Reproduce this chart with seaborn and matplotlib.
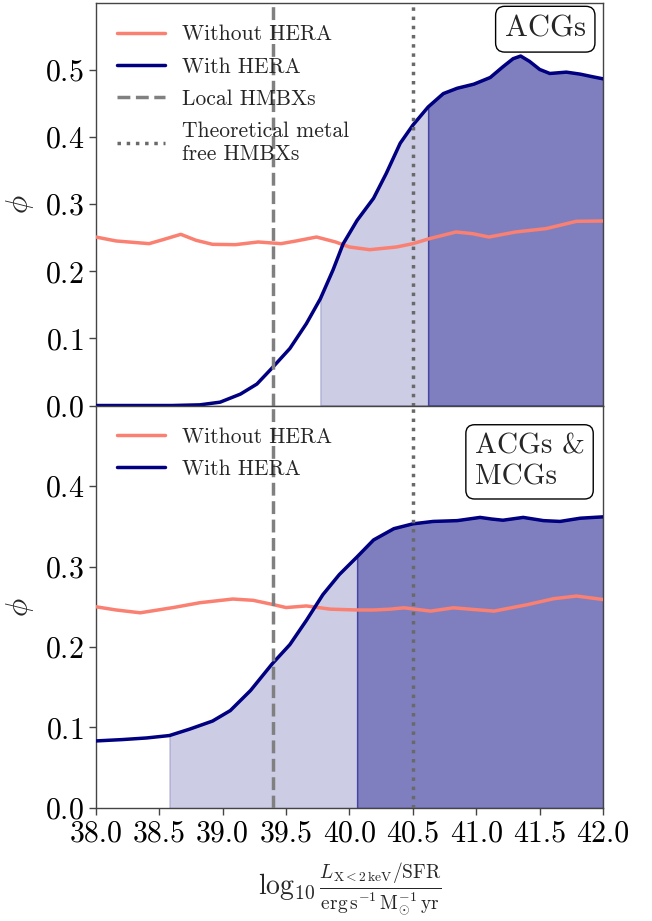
import numpy as np
import pandas as pd
import matplotlib
matplotlib.use("Agg")
import matplotlib.pyplot as plt
import seaborn as sns

# ACGs panel: phi as a function of log10(L_X/SFR)
acg_x_with = [38.0, 38.4, 38.6, 38.82, 38.98, 39.14, 39.27, 39.39, 39.53, 39.66, 39.77, 39.87,
              39.95, 40.06, 40.19, 40.29, 40.4, 40.5, 40.62, 40.74, 40.85, 40.98, 41.11, 41.21,
              41.29, 41.35, 41.42, 41.5, 41.58, 41.71, 41.82, 41.92, 42.0]
acg_phi_with = [0.0, 0.0, 0.0, 0.001, 0.005, 0.017, 0.032, 0.056, 0.085, 0.122, 0.159, 0.202,
                0.241, 0.276, 0.309, 0.346, 0.391, 0.418, 0.445, 0.465, 0.473, 0.479, 0.489,
                0.505, 0.517, 0.521, 0.513, 0.501, 0.495, 0.497, 0.494, 0.490, 0.487]
acg_x_without = [38.0, 38.16, 38.42, 38.53, 38.67, 38.79, 38.92, 39.1, 39.28, 39.46, 39.58,
                 39.74, 39.89, 40.0, 40.16, 40.37, 40.5, 40.63, 40.84, 40.97, 41.1, 41.31,
                 41.55, 41.79, 42.0]
acg_phi_without = [0.2512, 0.2453, 0.2413, 0.2473, 0.2552, 0.2463, 0.2403, 0.2398, 0.2438,
                   0.2413, 0.2453, 0.2512, 0.2438, 0.2363, 0.2323, 0.2363, 0.2413, 0.2487,
                   0.2587, 0.2562, 0.2512, 0.2587, 0.2637, 0.2746, 0.2751]

# ACGs & MCGs panel
mcg_x_with = [38.0, 38.21, 38.4, 38.58, 38.74, 38.92, 39.06, 39.22, 39.39, 39.53, 39.66, 39.79,
              39.92, 40.06, 40.19, 40.35, 40.5, 40.66, 40.85, 41.03, 41.12, 41.21, 41.37,
              41.53, 41.66, 41.82, 42.0]
mcg_phi_with = [0.0833, 0.085, 0.087, 0.090, 0.098, 0.108, 0.121, 0.146, 0.179, 0.203, 0.233,
                0.265, 0.290, 0.312, 0.333, 0.347, 0.353, 0.356, 0.357, 0.361, 0.359, 0.3575,
                0.361, 0.357, 0.356, 0.360, 0.3617]
mcg_x_without = [38.0, 38.16, 38.35, 38.61, 38.82, 39.08, 39.24, 39.39, 39.5, 39.66, 39.85,
                 40.06, 40.19, 40.32, 40.43, 40.64, 40.82, 40.98, 41.14, 41.4, 41.61, 41.79, 42.0]
mcg_phi_without = [0.250, 0.246, 0.2425, 0.249, 0.255, 0.2596, 0.258, 0.253, 0.249, 0.251,
                   0.247, 0.246, 0.246, 0.247, 0.2487, 0.2446, 0.2487, 0.2466, 0.2446, 0.2525,
                   0.260, 0.2633, 0.259]

# shaded credible regions (start of light and dark bands)
acg_bounds = [39.77, 40.62]
mcg_bounds = [38.58, 40.06]

local_hmxb = 39.4
metal_free_hmxb = 40.5

panel_labels = ["ACGs", "ACGs &\nMCGs"]
x_ticks = [38.0, 38.5, 39.0, 39.5, 40.0, 40.5, 41.0, 41.5, 42.0]

sns.set_style("ticks")
plt.rcParams["font.family"] = "serif"
plt.rcParams["font.serif"] = ["cmr10"]
plt.rcParams["mathtext.fontset"] = "cm"
plt.rcParams["axes.formatter.use_mathtext"] = True
plt.rcParams["axes.edgecolor"] = "#444444"
plt.rcParams["xtick.color"] = "#444444"
plt.rcParams["ytick.color"] = "#444444"
plt.rcParams["xtick.labelcolor"] = "black"
plt.rcParams["ytick.labelcolor"] = "black"

fig, axes = plt.subplots(2, 1, figsize=(6.52, 9.21), dpi=100, sharex=True)
fig.subplots_adjust(left=0.147, right=0.925, top=0.9967, bottom=0.1227, hspace=0)

panels = [
    (acg_x_with, acg_phi_with, acg_x_without, acg_phi_without, acg_bounds, (0, 0.6),
     [0.0, 0.1, 0.2, 0.3, 0.4, 0.5], True),
    (mcg_x_with, mcg_phi_with, mcg_x_without, mcg_phi_without, mcg_bounds, (0, 0.5),
     [0.0, 0.1, 0.2, 0.3, 0.4], False),
]

for ax, (xw, yw, xo, yo, bounds, ylim, yticks, full_legend), label in zip(axes, panels, panel_labels):
    xw = np.asarray(xw)
    yw = np.asarray(yw)
    lo, hi = bounds
    m1 = (xw >= lo) & (xw <= hi)
    m2 = xw >= hi
    ax.fill_between(xw[m1], 0, yw[m1], color="navy", alpha=0.2, lw=1, zorder=1)
    ax.fill_between(xw[m2], 0, yw[m2], color="navy", alpha=0.5, lw=1, zorder=1)

    sns.lineplot(x=xo, y=yo, ax=ax, color="salmon", lw=2.5, label="Without HERA",
                 sort=False, zorder=3)
    sns.lineplot(x=list(xw), y=list(yw), ax=ax, color="navy", lw=2.5, label="With HERA",
                 sort=False, zorder=4)
    ax.axvline(local_hmxb, color="gray", ls="--", lw=2.5, zorder=5,
               label="Local HMBXs" if full_legend else None)
    ax.axvline(metal_free_hmxb, color="dimgray", ls=":", lw=2.5, zorder=5,
               label="Theoretical metal\nfree HMBXs" if full_legend else None)

    ax.set_xlim(38, 42)
    ax.set_ylim(*ylim)
    ax.set_yticks(yticks)
    ax.set_ylabel(r"$\phi$", fontsize=22, labelpad=6)
    ax.tick_params(axis="both", labelsize=21.5, length=5, width=1)
    ax.legend(loc="upper left", frameon=False, fontsize=15.5, handlelength=2.2,
              borderaxespad=0.6, labelspacing=0.6)
    for s in ax.spines.values():
        s.set_linewidth(1.0)

axes[0].text(0.886, 0.935, panel_labels[0], transform=axes[0].transAxes, fontsize=22,
             ha="center", va="center",
             bbox=dict(boxstyle="round,pad=0.3", fc="white", ec="black", lw=1))
axes[1].text(0.855, 0.86, panel_labels[1], transform=axes[1].transAxes, fontsize=21,
             ha="center", va="center", multialignment="left",
             bbox=dict(boxstyle="round,pad=0.3", fc="white", ec="black", lw=1))

axes[0].tick_params(axis="x", length=0)
axes[1].set_xticks(x_ticks)
axes[1].set_xticklabels([f"{t:.1f}" for t in x_ticks])
axes[1].set_xlabel(r"$\log_{10}\frac{L_{\mathrm{X<2\,keV}}/\mathrm{SFR}}"
                   r"{\mathrm{erg\,s^{-1}\,M_{\odot}^{-1}\,yr}}$", fontsize=20, labelpad=10)

fig.savefig("out.png", dpi=100)
